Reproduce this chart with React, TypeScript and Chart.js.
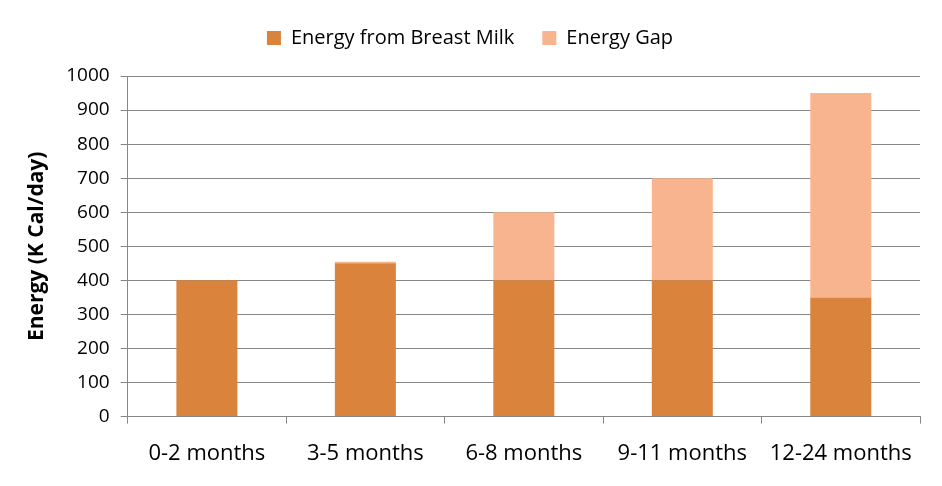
import React, { useEffect, useRef } from "react";
import { Chart, registerables } from "chart.js";

Chart.register(...registerables);

const categories = ["0-2 months", "3-5 months", "6-8 months", "9-11 months", "12-24 months"];
const breastMilk = [400, 450, 400, 400, 350];
const energyGap = [0, 5, 200, 300, 600];
const yTicks = [0, 100, 200, 300, 400, 500, 600, 700, 800, 900, 1000];

const FONT = "'Open Sans', Lato, sans-serif";

const legendMargin = {
  id: "legendMargin",
  beforeInit(chart: any) {
    const origFit = chart.legend.fit;
    chart.legend.fit = function fit() {
      origFit.bind(chart.legend)();
      this.height += 18;
    };
  },
};

export default function App() {
  const ref = useRef<HTMLCanvasElement | null>(null);
  useEffect(() => {
    document.body.style.margin = "0";
    const chart = new Chart(ref.current as HTMLCanvasElement, {
      type: "bar",
      plugins: [legendMargin],
      data: {
        labels: categories,
        datasets: [
          {
            label: "Energy from Breast Milk",
            data: breastMilk,
            backgroundColor: "#D9833D",
            categoryPercentage: 1,
            barPercentage: 0.385,
          },
          {
            label: "Energy Gap",
            data: energyGap,
            backgroundColor: "#F8B48E",
            categoryPercentage: 1,
            barPercentage: 0.385,
          },
        ],
      },
      options: {
        animation: false,
        responsive: false,
        maintainAspectRatio: false,
        layout: { padding: { top: 0, right: 22, left: 20, bottom: 2 } },
        plugins: {
          legend: {
            position: "top",
            labels: {
              boxWidth: 14,
              boxHeight: 14,
              color: "#000",
              font: { family: FONT, size: 20 },
              padding: 28,
            },
          },
          tooltip: { enabled: false },
        },
        scales: {
          x: {
            stacked: true,
            grid: {
              offset: true,
              drawOnChartArea: false,
              drawTicks: true,
              tickLength: 7,
              color: "#868686",
            },
            border: { display: true, color: "#868686" },
            ticks: { color: "#000", font: { family: FONT, size: 22 }, padding: 17 },
          },
          y: {
            stacked: true,
            min: 0,
            max: 1000,
            afterBuildTicks: (axis: any) => {
              axis.ticks = yTicks.map((v) => ({ value: v }));
            },
            grid: { color: "#868686", tickLength: 7 },
            border: { display: true, color: "#868686" },
            ticks: {
              color: "#000",
              font: { family: FONT, size: 19 },
              padding: 11,
              callback: (v: any) => String(v),
            },
            title: {
              display: true,
              text: "Energy (K Cal/day)",
              color: "#000",
              font: { family: FONT, size: 21, weight: "bold" },
              padding: { bottom: 6 },
            },
          },
        },
      },
    });
    return () => chart.destroy();
  }, []);
  return (
    <div style={{ width: 942, height: 486 }}>
      <canvas ref={ref} width={942} height={486} />
    </div>
  );
}
